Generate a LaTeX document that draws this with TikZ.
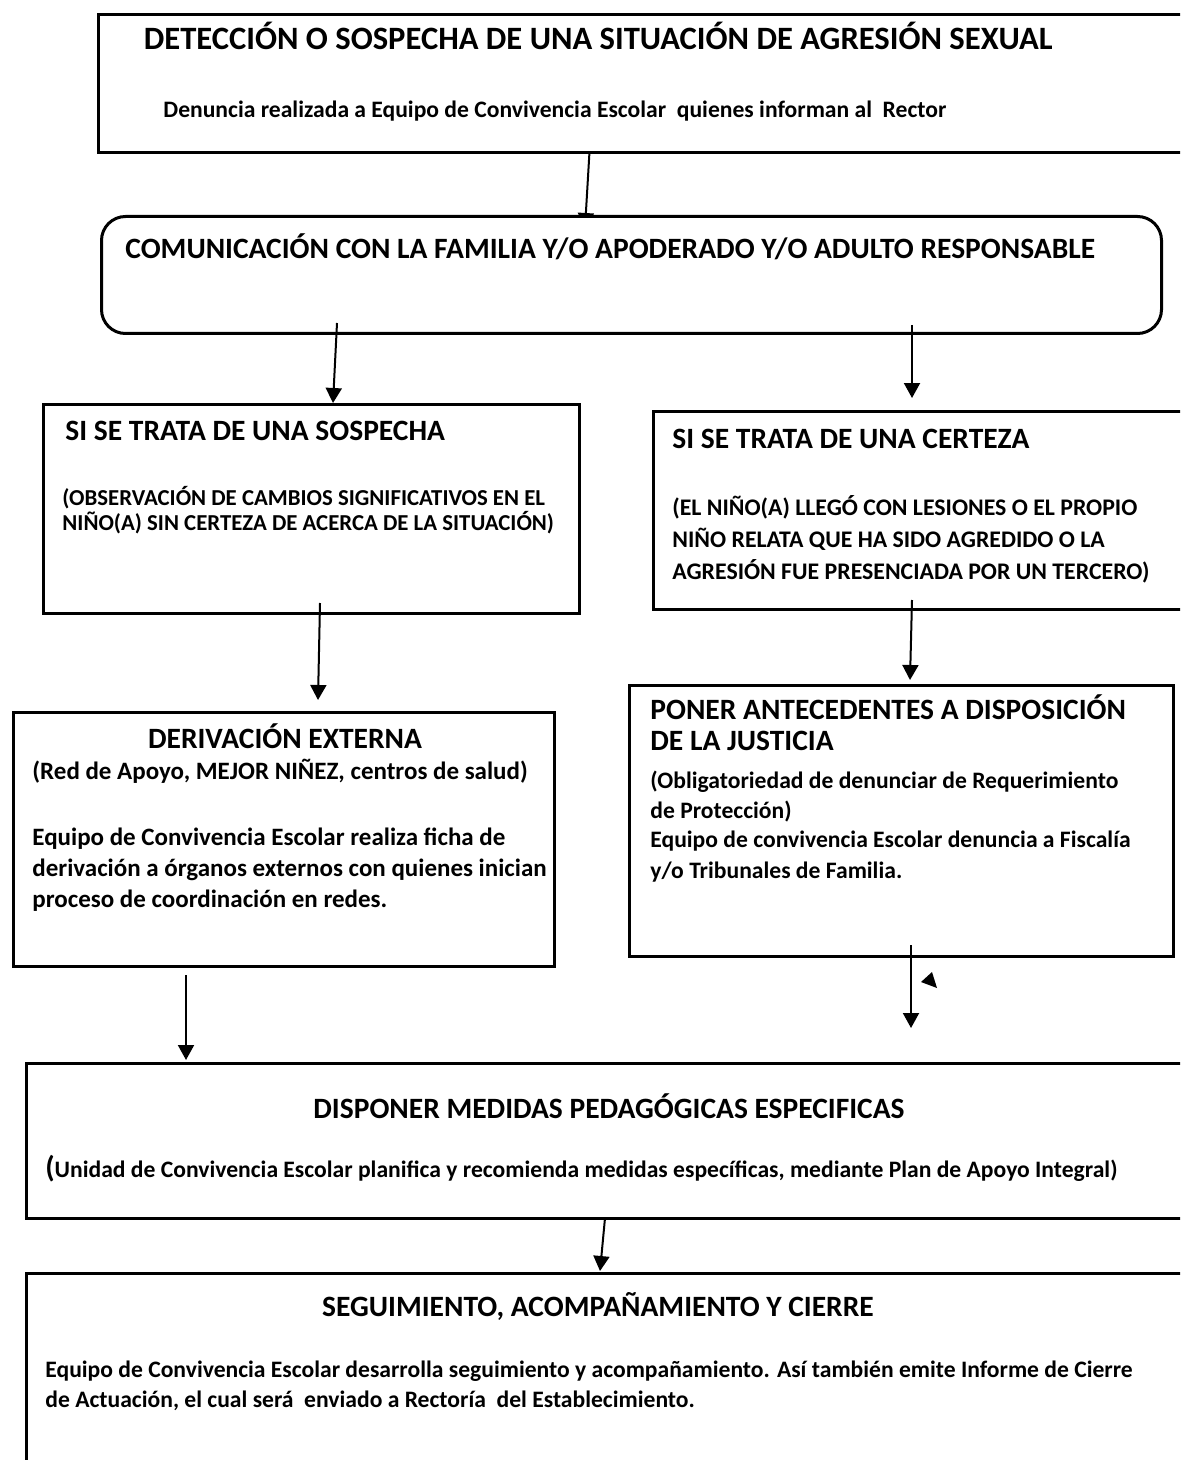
\documentclass[tikz,border=0pt]{standalone}
\usepackage{fontspec}
\setmainfont{Carlito}
\usetikzlibrary{arrows.meta}
\begin{document}
\begin{tikzpicture}[x=0.5pt,y=-0.5pt,
 box/.style={draw,line width=1.5pt,fill=white,anchor=north west,inner sep=0pt},
 conn/.style={line width=1pt,-{Triangle[width=8pt,length=7.5pt]}},
 ttl/.style={font=\fontsize{14.75}{17}\selectfont\bfseries,inner sep=0pt,anchor=base west},
 txt/.style={font=\fontsize{11.8}{15}\selectfont\bfseries,inner sep=0pt,anchor=base west},
 txtb/.style={font=\fontsize{12.5}{15}\selectfont\bfseries,inner sep=0pt,anchor=base west},
 subs/.style={font=\fontsize{11.4}{15}\selectfont\bfseries,inner sep=0pt,anchor=base west},
 subc/.style={font=\fontsize{11.9}{15}\selectfont\bfseries,inner sep=0pt,anchor=base west}]
\useasboundingbox (0,0) rectangle (1180,1460);
\clip (0,0) rectangle (1180,1460);
% connector end points
\coordinate (a1s) at (590,143); \coordinate (a1e) at (585,228);
\coordinate (a2s) at (337,323); \coordinate (a2e) at (333,403);
\coordinate (a3s) at (912,325); \coordinate (a3e) at (912,398);
\coordinate (a4s) at (320,603); \coordinate (a4e) at (318,700);
\coordinate (a5s) at (912,600); \coordinate (a5e) at (910,680);
\coordinate (a6s) at (186,975); \coordinate (a6e) at (186,1060);
\coordinate (a7s) at (911,945); \coordinate (a7e) at (911,1028);
\coordinate (a8s) at (605,1218); \coordinate (a8e) at (600,1271);
\draw[conn] (a1s) -- (a1e);
% boxes
\node[box,minimum width=550pt,minimum height=69pt] (b1) at (97,13) {};
\node[box,rounded corners=12pt,minimum width=530pt,minimum height=58.5pt] (b2) at (100,215) {};
\node[box,minimum width=268pt,minimum height=104.5pt] (b3) at (42,403) {};
\node[box,minimum width=270pt,minimum height=99pt] (b4) at (652,410) {};
\node[box,minimum width=270.5pt,minimum height=127pt] (b5) at (12,711) {};
\node[box,minimum width=272pt,minimum height=135.5pt] (b6) at (628,684) {};
\node[box,minimum width=590pt,minimum height=77.5pt] (b7) at (25,1062) {};
\node[box,minimum width=590pt,minimum height=100pt] (b8) at (25,1272) {};
\draw[conn] (a2s) -- (a2e);
\draw[conn] (a3s) -- (a3e);
\draw[conn] (a4s) -- (a4e);
\draw[conn] (a5s) -- (a5e);
\draw[conn] (a6s) -- (a6e);
\draw[conn] (a7s) -- (a7e);
\draw[conn] (a8s) -- (a8e);
\coordinate (t1) at (921,982); \coordinate (t2) at (932,972); \coordinate (t3) at (937,988);
\fill (t1) -- (t2) -- (t3) -- cycle;
% texts
\node[ttl,font=\fontsize{16.3}{19}\selectfont\bfseries,anchor=base east] (x1) at (1053,50) {DETECCIÓN O SOSPECHA DE UNA SITUACIÓN DE AGRESIÓN SEXUAL};
\node[txt] (x2) at (163,118) {Denuncia realizada a Equipo de Convivencia Escolar\ \ quienes informan al\ \ Rector};
\node[ttl] (x3) at (125,259) {COMUNICACIÓN CON LA FAMILIA Y/O APODERADO Y/O ADULTO RESPONSABLE};
\node[ttl] (x4) at (65,440) {SI SE TRATA DE UNA SOSPECHA};
\node[subs] (x5) at (62,505) {(OBSERVACIÓN DE CAMBIOS SIGNIFICATIVOS EN EL};
\node[subs] (x6) at (62,530) {NIÑO(A) SIN CERTEZA DE ACERCA DE LA SITUACIÓN)};
\node[ttl] (x7) at (672,448) {SI SE TRATA DE UNA CERTEZA};
\node[subc] (x8) at (672,515) {(EL NIÑO(A) LLEGÓ CON LESIONES O EL PROPIO};
\node[subc] (x9) at (672,547) {NIÑO RELATA QUE HA SIDO AGREDIDO O LA};
\node[subc] (x10) at (672,579) {AGRESIÓN FUE PRESENCIADA POR UN TERCERO)};
\node[ttl,anchor=base] (x11) at (285,748) {DERIVACIÓN EXTERNA};
\node[txtb] (x12) at (32,779) {(Red de Apoyo, MEJOR NIÑEZ, centros de salud)};
\node[txtb] (x13) at (32,845) {Equipo de Convivencia Escolar realiza ficha de};
\node[txtb] (x14) at (32,876) {derivación a órganos externos con quienes inician};
\node[txtb] (x15) at (32,907) {proceso de coordinación en redes.};
\node[ttl] (x16) at (650,719) {PONER ANTECEDENTES A DISPOSICIÓN};
\node[ttl] (x17) at (650,750) {DE LA JUSTICIA};
\node[txt] (x18) at (650,788) {(Obligatoriedad de denunciar de Requerimiento};
\node[txt] (x19) at (650,818) {de Protección)};
\node[txt] (x20) at (650,847) {Equipo de convivencia Escolar denuncia a Fiscalía};
\node[txt] (x21) at (650,878) {y/o Tribunales de Familia.};
\node[ttl,anchor=base] (x22) at (609,1118) {DISPONER MEDIDAS PEDAGÓGICAS ESPECIFICAS};
\node[txt] (x23) at (45,1177) {{\fontsize{15}{17}\selectfont(}Unidad de Convivencia Escolar planifica y recomienda medidas específicas, mediante Plan de Apoyo Integral)};
\node[ttl,anchor=base] (x24) at (598,1316) {SEGUIMIENTO, ACOMPAÑAMIENTO Y CIERRE};
\node[txt] (x25) at (45,1377) {Equipo de Convivencia Escolar desarrolla seguimiento y acompañamiento. Así también emite Informe de Cierre};
\node[txt] (x26) at (45,1407) {de Actuación, el cual será\ \ enviado a Rectoría\ \ del Establecimiento.};
\end{tikzpicture}
\end{document}
